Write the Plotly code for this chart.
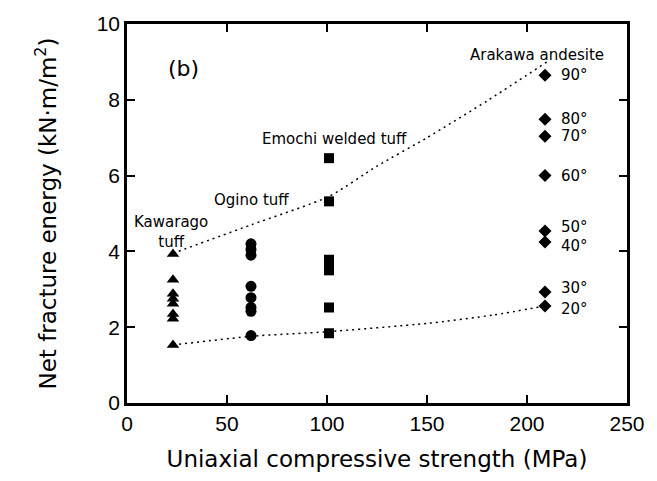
import plotly.graph_objects as go

TICK_FONT = "Liberation Sans"
TXT_FONT = "DejaVu Sans"

# Kawarago tuff (triangles)
kawarago_ucs = [23, 23, 23, 23, 23, 23, 23, 23]
kawarago_e = [3.93, 3.25, 2.88, 2.75, 2.62, 2.35, 2.22, 1.53]

# Ogino tuff (circles)
ogino_ucs = [62, 62, 62, 62, 62, 62, 62, 62]
ogino_e = [4.2, 4.05, 3.9, 3.08, 2.78, 2.52, 2.42, 1.78]

# Emochi welded tuff (squares)
emochi_ucs = [101, 101, 101, 101, 101, 101, 101]
emochi_e = [6.46, 5.32, 3.78, 3.65, 3.5, 2.52, 1.84]

# Arakawa andesite (diamonds) with bedding angles
arakawa_ucs = [209, 209, 209, 209, 209, 209, 209, 209]
arakawa_e = [8.65, 7.49, 7.04, 6.0, 4.54, 4.25, 2.93, 2.56]
arakawa_angle = ["90°", "80°", "70°", "60°", "50°", "40°", "30°", "20°"]

# Dotted envelope curves
upper_x = [23, 62, 101, 125, 150, 180, 210]
upper_y = [3.95, 4.7, 5.45, 6.25, 7.0, 7.97, 9.0]
lower_x = [23, 62, 100, 150, 183, 209]
lower_y = [1.53, 1.76, 1.88, 2.1, 2.32, 2.56]

# label pixel nudges (style only)
label_yshift = [0, 0, 0, 0, 4, -4, 4, -3]

fig = go.Figure()

line_style = dict(color="black", width=1.5, dash="2px,4px")
fig.add_trace(go.Scatter(x=upper_x, y=upper_y, mode="lines",
                         line=dict(shape="spline", smoothing=0.6, **line_style)))
fig.add_trace(go.Scatter(x=lower_x, y=lower_y, mode="lines",
                         line=dict(shape="spline", smoothing=0.6, **line_style)))

fig.add_trace(go.Scatter(x=kawarago_ucs, y=kawarago_e, mode="markers",
                         marker=dict(symbol="triangle-up", size=11, color="black")))
fig.add_trace(go.Scatter(x=ogino_ucs, y=ogino_e, mode="markers",
                         marker=dict(symbol="circle", size=11, color="black")))
fig.add_trace(go.Scatter(x=emochi_ucs, y=emochi_e, mode="markers",
                         marker=dict(symbol="square", size=10, color="black")))
fig.add_trace(go.Scatter(x=arakawa_ucs, y=arakawa_e, mode="markers",
                         marker=dict(symbol="diamond", size=10, color="black")))

for ang, xv, yv, dy in zip(arakawa_angle, arakawa_ucs, arakawa_e, label_yshift):
    fig.add_annotation(x=xv, y=yv, text=ang, showarrow=False, xanchor="left",
                       xshift=14, yshift=dy,
                       font=dict(family=TXT_FONT, size=15, color="black"))

ann_font = dict(family=TXT_FONT, size=15, color="black")
fig.add_annotation(x=0.078, y=0.922, xref="paper", yref="paper", text="(b)",
                   showarrow=False, font=dict(family=TXT_FONT, size=22, color="black"))
fig.add_annotation(x=22, y=4.5, text="Kawarago<br>tuff", showarrow=False,
                   font=ann_font, align="center")
fig.add_annotation(x=62, y=5.35, text="Ogino tuff", showarrow=False, font=ann_font)
fig.add_annotation(x=103.5, y=6.97, text="Emochi welded tuff", showarrow=False, font=ann_font)
fig.add_annotation(x=205, y=9.17, text="Arakawa andesite", showarrow=False, font=ann_font)

axis_common = dict(showline=True, linecolor="black", linewidth=2.5, mirror="ticks",
                   ticks="inside", ticklen=8, tickwidth=1.5, tickcolor="black",
                   showgrid=False, zeroline=False,
                   tickfont=dict(family=TICK_FONT, size=21, color="black"))

fig.update_xaxes(range=[0, 250], tickvals=[0, 50, 100, 150, 200, 250],
                 title=dict(text="Uniaxial compressive strength (MPa)",
                            font=dict(family=TXT_FONT, size=23, color="black"), standoff=17),
                 **axis_common)
fig.update_yaxes(range=[0, 10], tickvals=[0, 2, 4, 6, 8, 10],
                 title=dict(text="Net fracture energy (kN·m/m<sup>2</sup>)",
                            font=dict(family=TXT_FONT, size=23, color="black"), standoff=34),
                 **axis_common)

fig.update_layout(width=657, height=481, showlegend=False,
                  margin=dict(l=127, r=30, t=24, b=78),
                  plot_bgcolor="white", paper_bgcolor="white")

fig.write_html("out.html")
